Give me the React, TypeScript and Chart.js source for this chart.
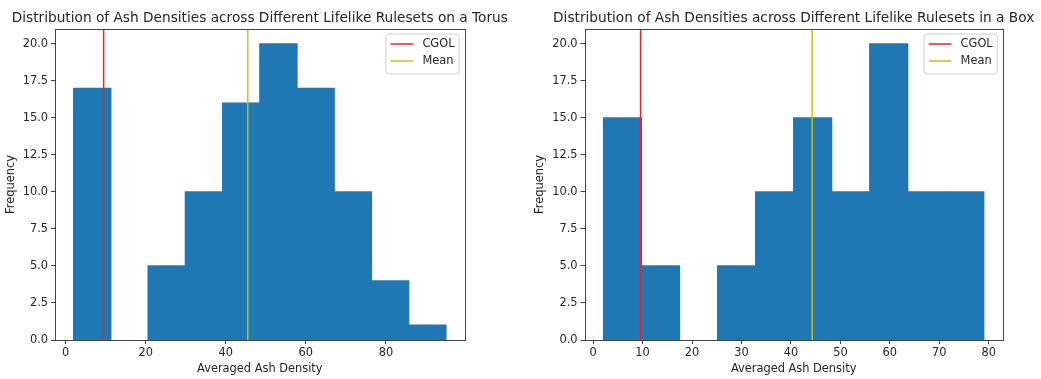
import React, { useEffect, useRef } from "react";
import { Chart, registerables } from "chart.js";

Chart.register(...registerables);

// ---------- data ----------
const torusTitle = "Distribution of Ash Densities across Different Lifelike Rulesets on a Torus";
const torusBinEdges = [2.0, 11.3, 20.6, 29.9, 39.2, 48.5, 57.8, 67.1, 76.4, 85.7, 95.0];
const torusCounts = [17, 0, 5, 10, 16, 20, 17, 10, 4, 1];
const torusCgol = 9.5;
const torusMean = 45.5;
const torusXTicks = [0, 20, 40, 60, 80];

const boxTitle = "Distribution of Ash Densities across Different Lifelike Rulesets in a Box";
const boxBinEdges = [2.1, 9.79, 17.48, 25.17, 32.86, 40.55, 48.24, 55.93, 63.62, 71.31, 79.0];
const boxCounts = [15, 5, 0, 5, 10, 15, 10, 20, 10, 10];
const boxCgol = 9.6;
const boxMean = 44.3;
const boxXTicks = [0, 10, 20, 30, 40, 50, 60, 70, 80];

const yTicks = [0, 2.5, 5, 7.5, 10, 12.5, 15, 17.5, 20];
const xAxisLabel = "Averaged Ash Density";
const yAxisLabel = "Frequency";
const cgolLabel = "CGOL";
const meanLabel = "Mean";

// ---------- style ----------
const FONT = "'DejaVu Sans', 'Liberation Sans', sans-serif";
const TEXT = "#262626";
const SPINE = "#444444";
const BAR = "#1f77b4";
const RED = "#e3262b";
const YEL = "#c2c21c";
const TICK_FS = 11.4;
const TITLE_FS = 13.7;

const panelDecor = {
  id: "panelDecor",
  afterDraw(chart: any, _args: any, opts: any) {
    const { ctx, chartArea: a } = chart;
    ctx.save();
    // frame (4 spines)
    ctx.strokeStyle = SPINE;
    ctx.lineWidth = 1;
    ctx.strokeRect(Math.round(a.left) + 0.5, Math.round(a.top) + 0.5, Math.round(a.right - a.left), Math.round(a.bottom - a.top));
    // title
    ctx.fillStyle = TEXT;
    ctx.font = `${TITLE_FS}px ${FONT}`;
    ctx.textAlign = "center";
    ctx.textBaseline = "alphabetic";
    ctx.fillText(opts.title, (a.left + a.right) / 2, 21.7);
    // legend
    const items = chart.data.datasets.filter((d: any) => d.type === "line");
    ctx.font = `${TICK_FS}px ${FONT}`;
    const tw = Math.max(...items.map((d: any) => ctx.measureText(d.label).width));
    const pad = 4.6, handle = 22.8, gap = 9.1;
    const w = pad + handle + gap + tw + pad;
    const h = 40;
    const right = a.right - 5.5;
    const left = right - w;
    const top = a.top + 5;
    ctx.beginPath();
    const r = 3;
    ctx.moveTo(left + r, top);
    ctx.lineTo(left + w - r, top);
    ctx.quadraticCurveTo(left + w, top, left + w, top + r);
    ctx.lineTo(left + w, top + h - r);
    ctx.quadraticCurveTo(left + w, top + h, left + w - r, top + h);
    ctx.lineTo(left + r, top + h);
    ctx.quadraticCurveTo(left, top + h, left, top + h - r);
    ctx.lineTo(left, top + r);
    ctx.quadraticCurveTo(left, top, left + r, top);
    ctx.closePath();
    ctx.fillStyle = "rgba(255,255,255,0.8)";
    ctx.fill();
    ctx.strokeStyle = "#d0d0d0";
    ctx.lineWidth = 1;
    ctx.stroke();
    items.forEach((d: any, i: number) => {
      const cy = top + 10 + i * 17;
      ctx.strokeStyle = d.borderColor;
      ctx.lineWidth = 1.5;
      ctx.beginPath();
      ctx.moveTo(left + pad, cy);
      ctx.lineTo(left + pad + handle, cy);
      ctx.stroke();
      ctx.fillStyle = TEXT;
      ctx.textAlign = "left";
      ctx.textBaseline = "middle";
      ctx.fillText(d.label, left + pad + handle + gap, cy);
    });
    ctx.restore();
  },
};

function makeConfig(
  title: string,
  edges: number[],
  counts: number[],
  cgol: number,
  mean: number,
  xTicks: number[],
  axisLeft: number,
  padRight: number,
  yTitleOffset: number
): any {
  const centers = counts.map((_, i) => (edges[i] + edges[i + 1]) / 2);
  const lo = edges[0];
  const hi = edges[edges.length - 1];
  const m = 0.05 * (hi - lo);
  const ymax = Math.max(...counts) * 1.05;
  const tickFont = { family: FONT, size: TICK_FS };
  return {
    type: "bar",
    data: {
      datasets: [
        {
          type: "bar",
          label: "hist",
          data: centers.map((c, i) => ({ x: c, y: counts[i] })),
          backgroundColor: (c: any) => (c.raw && c.raw.y === 0 ? "rgba(0,0,0,0)" : BAR),
          borderWidth: 0,
          inflateAmount: (c: any) => (c.raw && c.raw.y === 0 ? 0 : 0.6),
          barPercentage: 1,
          categoryPercentage: 1,
          order: 3,
        },
        {
          type: "line",
          label: cgolLabel,
          data: [{ x: cgol, y: 0 }, { x: cgol, y: ymax }],
          borderColor: RED,
          borderWidth: 1.5,
          pointRadius: 0,
          order: 2,
        },
        {
          type: "line",
          label: meanLabel,
          data: [{ x: mean, y: 0 }, { x: mean, y: ymax }],
          borderColor: YEL,
          borderWidth: 1.5,
          pointRadius: 0,
          order: 1,
        },
      ],
    },
    options: {
      animation: false,
      responsive: false,
      maintainAspectRatio: false,
      events: [],
      layout: { padding: { left: 0, right: padRight, top: 29, bottom: 0 } },
      plugins: {
        legend: { display: false },
        tooltip: { enabled: false },
        title: { display: false },
        panelDecor: { title },
      },
      scales: {
        x: {
          type: "linear",
          min: lo - m,
          max: hi + m,
          offset: false,
          grid: { display: true, offset: false, drawOnChartArea: false, drawTicks: true, tickLength: 4, tickColor: SPINE, tickWidth: 1 },
          border: { display: false },
          ticks: { font: tickFont, color: TEXT, padding: 2, maxRotation: 0, callback: (v: number) => String(v) },
          afterBuildTicks: (ax: any) => {
            ax.ticks = xTicks.map((v) => ({ value: v }));
          },
          afterFit: (s: any) => {
            s.height = 39;
          },
          title: { display: true, text: xAxisLabel, font: tickFont, color: TEXT, padding: { top: 0, bottom: 3.2 } },
        },
        y: {
          type: "linear",
          min: 0,
          max: ymax,
          grid: { display: true, drawOnChartArea: false, drawTicks: true, tickLength: 4, tickColor: SPINE, tickWidth: 1 },
          border: { display: false },
          ticks: { font: tickFont, color: TEXT, padding: 3, callback: (v: number) => v.toFixed(1) },
          afterBuildTicks: (ax: any) => {
            ax.ticks = yTicks.map((v) => ({ value: v }));
          },
          afterFit: (s: any) => {
            s.width = axisLeft;
          },
          title: { display: true, text: yAxisLabel, font: tickFont, color: TEXT, padding: { top: yTitleOffset, bottom: 0 } },
        },
      },
    },
    plugins: [panelDecor],
  };
}

export default function App() {
  const leftRef = useRef<HTMLCanvasElement>(null);
  const rightRef = useRef<HTMLCanvasElement>(null);

  useEffect(() => {
    const c1 = new Chart(
      leftRef.current as HTMLCanvasElement,
      makeConfig(torusTitle, torusBinEdges, torusCounts, torusCgol, torusMean, torusXTicks, 55, 55.4, 4.2)
    );
    const c2 = new Chart(
      rightRef.current as HTMLCanvasElement,
      makeConfig(boxTitle, boxBinEdges, boxCounts, boxCgol, boxMean, boxXTicks, 64.5, 38.2, 13.2)
    );
    return () => {
      c1.destroy();
      c2.destroy();
    };
  }, []);

  return (
    <div style={{ position: "fixed", left: 0, top: 0, width: 1041, height: 379, background: "#fff", overflow: "hidden" }}>
      <div style={{ position: "absolute", left: 0, top: 0, width: 520, height: 379 }}>
        <canvas ref={leftRef} width={520} height={379} style={{ display: "block" }} />
      </div>
      <div style={{ position: "absolute", left: 520, top: 0, width: 521, height: 379 }}>
        <canvas ref={rightRef} width={521} height={379} style={{ display: "block" }} />
      </div>
    </div>
  );
}
